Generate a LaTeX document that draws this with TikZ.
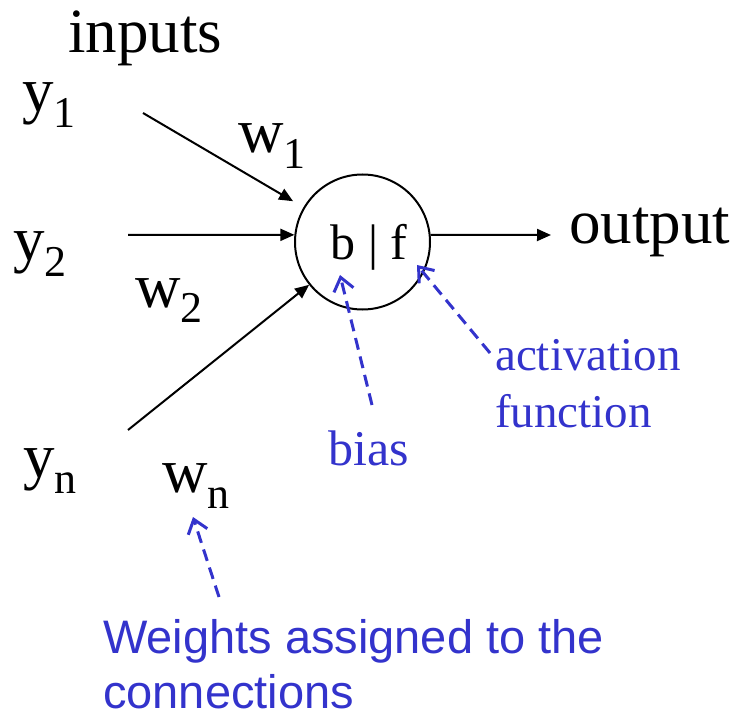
\documentclass[tikz,border=0pt]{standalone}
\usepackage{fontspec}
\setmainfont{Liberation Serif}
\newfontfamily\arialf{Liberation Sans}
\usetikzlibrary{arrows.meta}
\definecolor{myblue}{RGB}{51,51,204}
\newcommand{\sbs}[1]{\raisebox{-16pt}{\fontsize{44}{44}\selectfont #1}}
\tikzset{
  big/.style={font=\fontsize{63}{63}\selectfont, inner sep=0pt, anchor=base west},
  bluetxt/.style={font=\fontsize{47}{47}\selectfont, text=myblue, inner sep=0pt, anchor=base west},
  sanstxt/.style={font=\arialf\fontsize{47}{47}\selectfont, text=myblue, inner sep=0pt, anchor=base west},
  conn/.style={line width=2pt, -{Triangle[length=14pt,width=12pt]}},
  note/.style={draw=myblue, line width=3pt, dash pattern=on 12pt off 7pt, -{Straight Barb[length=13pt,width=20pt]}},
}
\begin{document}
\begin{tikzpicture}[x=1pt,y=-1pt]
\useasboundingbox (0,0) rectangle (734,714);
% text labels
\node[big] (inputs) at (68,53) {inputs};
\node[big] (y1) at (22,112) {y\sbs{1}};
\node[big] (y2) at (13,261) {y\sbs{2}};
\node[big] (yn) at (23,477) {y\sbs{n}};
\node[big] (w1) at (238,153) {w\sbs{1}};
\node[big] (w2) at (135,307) {w\sbs{2}};
\node[big] (wn) at (162,492) {w\sbs{n}};
\node[big] (out) at (569,244) {output};
% neuron
\node[draw, circle, line width=2pt, minimum size=135pt, inner sep=0pt] (c) at (362.5,242) {};
\node[font=\fontsize{50}{50}\selectfont, anchor=base, inner sep=0pt] (bf) at (369,260) {b | f};
% connector ends
\coordinate (s1) at (143,113);
\coordinate (s2) at (128,235);
\coordinate (sn) at (128,430);
\coordinate (o) at (551,235);
\draw[conn, shorten >=12pt] (s1) -- (c);
\draw[conn] (s2) -- (c.174);
\draw[conn] (sn) -- (c);
\draw[conn] (c.6) -- (o);
% blue notes
\node[bluetxt] (act) at (495,370) {activation};
\node[bluetxt] (fun) at (495,427) {function};
\node[bluetxt, font=\fontsize{50}{50}\selectfont] (bias) at (328,465) {bias};
\node[sanstxt] (wt1) at (103,653) {Weights assigned to the};
\node[sanstxt] (wt2) at (103,708) {connections};
\coordinate (bs) at (372,405);
\coordinate (bt) at (340,275);
\coordinate (as) at (490,353);
\coordinate (at) at (417,265);
\coordinate (ws) at (219,597);
\coordinate (wt) at (193,517);
\draw[note] (bs) -- (bt);
\draw[note] (as) -- (at);
\draw[note] (ws) -- (wt);
\end{tikzpicture}
\end{document}
